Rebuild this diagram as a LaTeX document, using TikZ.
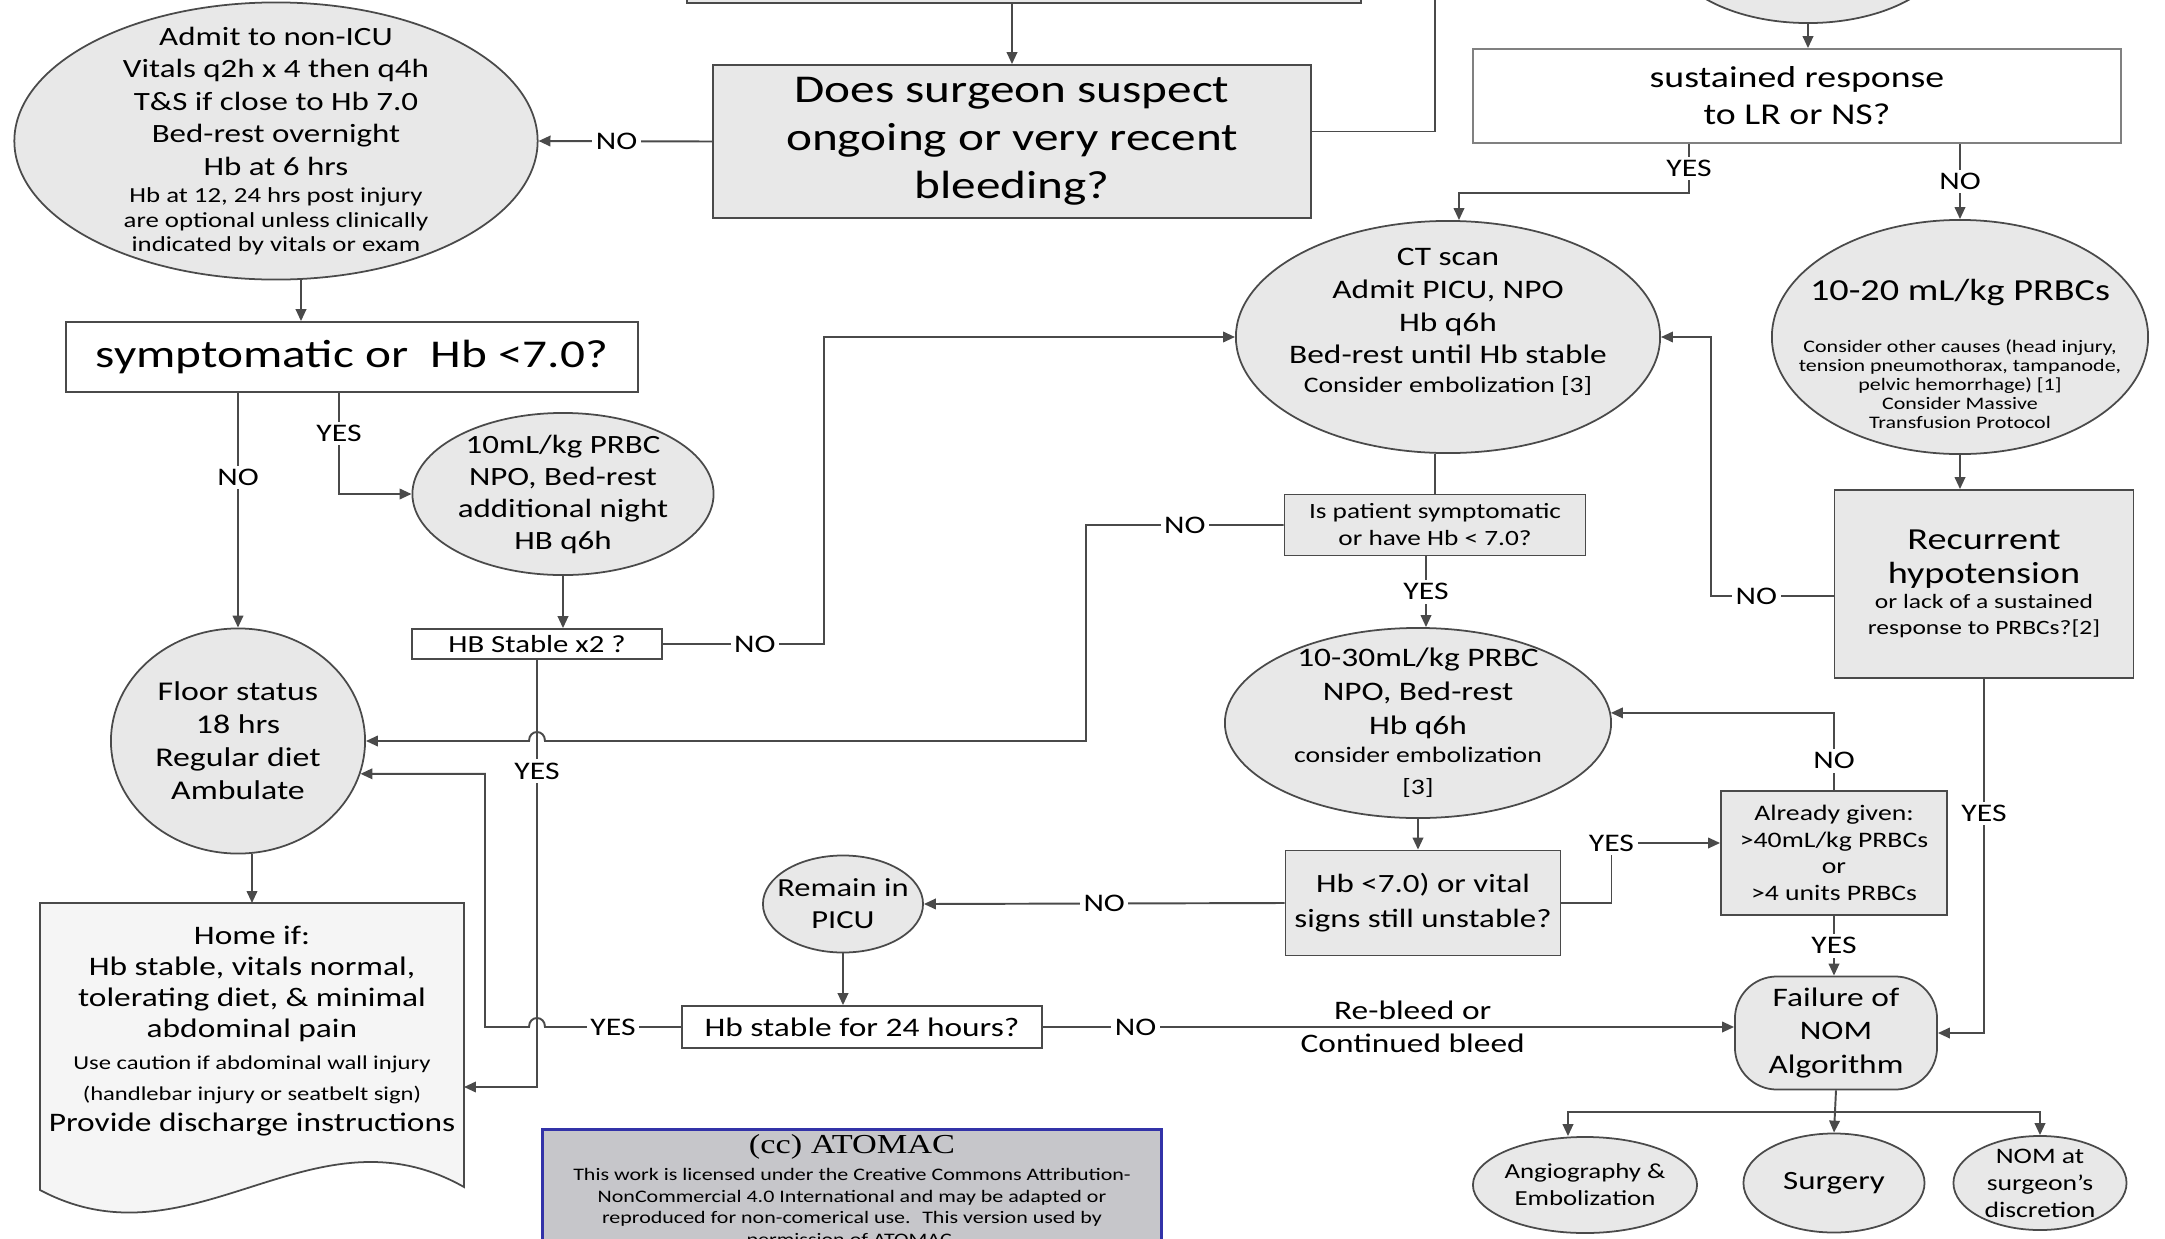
\documentclass[tikz,border=0pt]{standalone}
\usepackage{fontspec}
\setmainfont{Carlito}[FakeStretch=1.25]
\newfontfamily\licfont{Liberation Serif}[FakeStretch=1.25]
\usetikzlibrary{arrows.meta,shapes.geometric,calc,backgrounds}
\definecolor{linegray}{HTML}{4A4A4A}
\definecolor{fillgray}{HTML}{E8E8E8}
\definecolor{docgray}{HTML}{F5F5F5}
\definecolor{licgray}{HTML}{C6C6CA}
\definecolor{licblue}{HTML}{3232A8}
\newcommand{\fsz}[2]{\fontsize{#1}{#2}\selectfont}

\begin{document}
\begin{tikzpicture}[x=0.01cm,y=-0.01cm,
  nodebase/.style={draw=linegray,line width=0.5pt,inner sep=0pt,align=center},
  ell/.style={nodebase,ellipse,fill=fillgray,inner xsep=-0.8cm,inner ysep=-0.6cm},
  gbox/.style={nodebase,rectangle,fill=fillgray},
  wbox/.style={nodebase,rectangle,fill=white},
  conn/.style={draw=linegray,line width=0.55pt},
  arr/.style={conn,-{Triangle[length=3.4pt,width=3pt]}},
  lbl/.style={fill=white,inner sep=1pt,font=\fsz{7.2}{8.6}},
  hopat/.style={insert path={.. controls ($(#1)+(8,-12)$) and ($(#1)+(-8,-12)$) .. ($(#1)+(-8,0)$)}}]
\useasboundingbox (0,0) rectangle (2165,1239);
\clip (0,0) rectangle (2165,1239);

\node[gbox,minimum width=6.73cm,minimum height=0.86cm] (topbox) at (1024,-40) {};
\node[ell,minimum width=2.86cm,minimum height=1.6cm] (topell) at (1808,-57) {};
\node[gbox,minimum width=5.98cm,minimum height=1.53cm,font=\fsz{11.2}{13.66}] (does) at (1012,141.5) {Does surgeon suspect\\ongoing or very recent\\bleeding?};
\node[ell,minimum width=5.23cm,minimum height=2.77cm,font=\fsz{7.5}{9.25}] (admit) at (276,141) {Admit to non-ICU\\Vitals q2h x 4 then q4h\\T\&S if close to Hb 7.0\\Bed-rest overnight\\Hb at 6 hrs\\[-1.55pt]\fsz{6.1}{7}Hb at 12, 24 hrs post injury\\[-2.25pt]\fsz{6.1}{7}are optional unless clinically\\[-2.25pt]\fsz{6.1}{7}indicated by vitals or exam};
\node[wbox,minimum width=5.71cm,minimum height=0.7cm,font=\fsz{11.2}{13.66}] (symp) at (352,357) {symptomatic or~ Hb <7.0?};
\node[ell,minimum width=3.01cm,minimum height=1.62cm,font=\fsz{7.5}{9.1}] (prbc10) at (563,494) {10mL/kg PRBC\\NPO, Bed-rest\\additional night\\HB q6h};
\node[wbox,minimum width=2.5cm,minimum height=0.3cm,font=\fsz{7}{8.5}] (hbx2) at (537,644) {HB Stable x2 ?};
\node[ell,minimum width=2.54cm,minimum height=2.25cm,font=\fsz{7.7}{9.4}] (floor) at (238,741) {Floor status\\18 hrs\\Regular diet\\Ambulate};
\node[inner sep=0pt,align=center,font=\fsz{7.6}{8.9}] (home) at (252,1031) {Home if:\\Hb stable, vitals normal,\\tolerating diet, \& minimal\\abdominal pain\\\fsz{5.6}{8.9}Use caution if abdominal wall injury\\\fsz{5.6}{8.9}(handlebar injury or seatbelt sign)\\Provide discharge instructions};
\node[ell,minimum width=4.24cm,minimum height=2.32cm,font=\fsz{7.6}{9.3}] (ct) at (1448,337) {CT scan\\Admit PICU, NPO\\Hb q6h\\Bed-rest until Hb stable\\[-1pt]\fsz{6.3}{8}Consider embolization [3]\\[0pt]\mbox{}};
\node[wbox,draw=gray,minimum width=6.48cm,minimum height=0.94cm,font=\fsz{8.6}{10.5}] (sust) at (1797,96) {sustained response\\to LR or NS?};
\node[ell,minimum width=3.76cm,minimum height=2.34cm,font=\fsz{5}{14.8}] (prbc20) at (1960,337) {\mbox{}\\[1pt]\fsz{8.7}{10}10-20 mL/kg PRBCs\\Consider other causes (head injury,\\[-9.4pt]tension pneumothorax, tampanode,\\[-9.4pt]pelvic hemorrhage) [1]\\[-9.4pt]Consider Massive\\[-9.4pt]Transfusion Protocol};
\node[gbox,minimum width=2.99cm,minimum height=1.88cm,font=\fsz{8.7}{9.7}] (recur) at (1984,584) {Recurrent\\hypotension\\[-2.6pt]\fsz{5.8}{7}or lack of a sustained\\[-2.3pt]\fsz{5.8}{7}response to PRBCs?[2]};
\node[gbox,minimum width=3.01cm,minimum height=0.61cm,font=\fsz{6.2}{7.7}] (ispat) at (1435,525) {Is patient symptomatic\\or have Hb < 7.0?};
\node[ell,minimum width=3.86cm,minimum height=1.9cm,font=\fsz{7.6}{9.7}] (prbc30) at (1418,723) {10-30mL/kg PRBC\\NPO, Bed-rest\\Hb q6h\\[-1.7pt]\fsz{6.3}{8}consider embolization\\[-0.6pt]\fsz{6.3}{8}[3]};
\node[gbox,minimum width=2.75cm,minimum height=1.05cm,font=\fsz{7.5}{10}] (hbvital) at (1423,903) {Hb <7.0) or vital\\signs still unstable?};
\node[gbox,minimum width=2.26cm,minimum height=1.24cm,font=\fsz{6.3}{7.6}] (given) at (1834,853) {Already given:\\>40mL/kg PRBCs\\or\\>4 units PRBCs};
\node[nodebase,rectangle,rounded corners=0.42cm,fill=fillgray,minimum width=2.02cm,minimum height=1.13cm,font=\fsz{7.6}{9.5}] (fail) at (1836,1033) {Failure of\\NOM\\Algorithm};
\node[ell,minimum width=2.24cm,minimum height=0.96cm,font=\fsz{6.1}{7.7}] (angio) at (1585,1185) {Angiography \&\\Embolization};
\node[ell,minimum width=1.81cm,minimum height=0.99cm,font=\fsz{7.5}{9}] (surg) at (1834,1183) {Surgery};
\node[ell,minimum width=1.73cm,minimum height=0.94cm,font=\fsz{6.3}{7.7}] (nomat) at (2040,1183) {NOM at\\surgeon’s\\discretion};
\node[ell,minimum width=1.6cm,minimum height=0.97cm,font=\fsz{7.4}{9.1}] (picu) at (843,904) {Remain in\\PICU};
\node[wbox,minimum width=3.6cm,minimum height=0.42cm,font=\fsz{7.6}{9}] (hb24) at (862,1027) {Hb stable for 24 hours?};
\node[nodebase,draw=licblue,line width=0.9pt,fill=licgray,anchor=north,minimum width=6.19cm,inner ysep=0.05cm,font=\fsz{5}{6.1}] (lic) at (852,1128) {\licfont\fsz{7.8}{9}(cc)~ATOMAC\\[1.6pt]This work is licensed under the Creative Commons Attribution-\\NonCommercial 4.0 International and may be adapted or\\reproduced for non-comerical use.~ This version used by\\permission of ATOMAC.\\[6pt]\mbox{}};

\begin{scope}[on background layer]
\draw[draw=linegray,line width=0.5pt,fill=docgray] ($(home)+(-212,-128)$) -- ($(home)+(212,-128)$) -- ($(home)+(212,156)$) .. controls ($(home)+(60,70)$) and ($(home)+(-60,240)$) .. ($(home)+(-212,159)$) -- cycle;
\end{scope}

\coordinate (tr) at (1435,0);
\coordinate (a1) at ($(admit.south)+(25,0)$);
\coordinate (sy) at ($(symp.south)+(-13,0)$);
\coordinate (n2) at (824,0);
\coordinate (n3) at (1086,0);
\coordinate (c4) at (485,0);
\coordinate (j1) at (hbx2.south |- floor.east);
\coordinate (j2) at (hbx2.south |- hb24.west);
\coordinate (hy) at ($(home)+(212,56)$);
\coordinate (ht) at ($(home)+(0,-128)$);
\coordinate (c5) at ($(ispat.south)+(-9,0)$);
\coordinate (c6) at ($(sust.south)+(-108,0)$);
\coordinate (ctn) at ($(ct.north)+(11,0)$);
\coordinate (rw) at ($(recur.west)+(0,12)$);
\coordinate (c8) at (1711,0);
\coordinate (gw) at ($(given.west)+(0,-10)$);
\coordinate (br) at ($(fail.south)+(0,22)$);
\coordinate (aa) at ($(angio.north)+(-17,0)$);

\draw[arr] (topbox.south -| does.north) -- (does.north);
\draw[conn] (tr) |- ($(does.east)+(0,-10)$);
\draw[arr] (does.west) -- node[lbl,pos=0.55] (no1) {NO} (admit.east);
\draw[arr] (a1) -- (a1 |- symp.north);
\draw[arr] (floor.north |- symp.south) -- node[lbl,pos=0.36] (no2) {NO} (floor.north);
\draw[arr] (sy) |- node[lbl,pos=0.2] (yes1) {YES} (prbc10.west);
\draw[arr] (prbc10.south) -- (prbc10.south |- hbx2.north);
\draw[arr] (hbx2.east) -- node[lbl,pos=0.57] (no3) {NO} (hbx2.east -| n2) |- (ct.west);
\draw[arr] (hbx2.south) |- node[lbl,pos=0.13] (yes2) {YES} (hy);
\draw[arr] (ispat.west) -- node[lbl] (no4) {NO} (ispat.west -| n3) -- (n3 |- floor.east) -- ($(j1)+(8,0)$) [hopat=j1] -- (floor.east);
\draw[arr] (hb24.west) -- node[lbl] (yes3) {YES} ($(j2)+(8,0)$) [hopat=j2] -- (c4 |- hb24.west) |- (floor.-15);
\draw[arr] (ht |- floor.south) -- (ht);
\draw[arr] (topell.south) -- (topell.south |- sust.north);
\draw[arr] (c6) -- node[lbl] (yes4) {YES} ++(0,49) -| (ctn);
\draw[arr] (prbc20.north |- sust.south) -- node[lbl] (no5) {NO} (prbc20.north);
\draw[arr] (prbc20.south) -- (prbc20.south |- recur.north);
\draw[conn] (ispat.north |- ct.south) -- (ispat.north);
\draw[arr] (c5) -- node[lbl] (yes5) {YES} (c5 |- prbc30.north);
\draw[arr] (rw) -- node[lbl,pos=0.63] (no6) {NO} (rw -| c8) |- (ct.east);
\draw[arr] (recur.south) |- node[lbl,pos=0.19] (yes6) {YES} (fail.east);
\draw[arr] (prbc30.south) -- (prbc30.south |- hbvital.north);
\draw[arr] (hbvital.east) -- ++(50,0) |- node[lbl] (yes7) {YES} (gw);
\draw[arr] (hbvital.west) -- node[lbl] (no7) {NO} (picu.east);
\draw[arr] (given.north) |- node[lbl,pos=0.19] (no8) {NO} (prbc30.3);
\draw[arr] (given.south) -- node[lbl] (yes8) {YES} (given.south |- fail.north);
\draw[arr] (picu.south) -- (picu.south |- hb24.north);
\draw[arr] (hb24.east) -- node[lbl,pos=0.134] (no9) {NO} node[pos=0.535,align=center,font=\fsz{7.6}{9.4}] (bleed) {Re-bleed or\\Continued bleed} (hb24.east -| fail.west);
\draw[arr] (fail.south) -- (surg.north);
\draw[arr] (br) -| (aa);
\draw[arr] (br) -| (nomat.north);
\end{tikzpicture}
\end{document}
